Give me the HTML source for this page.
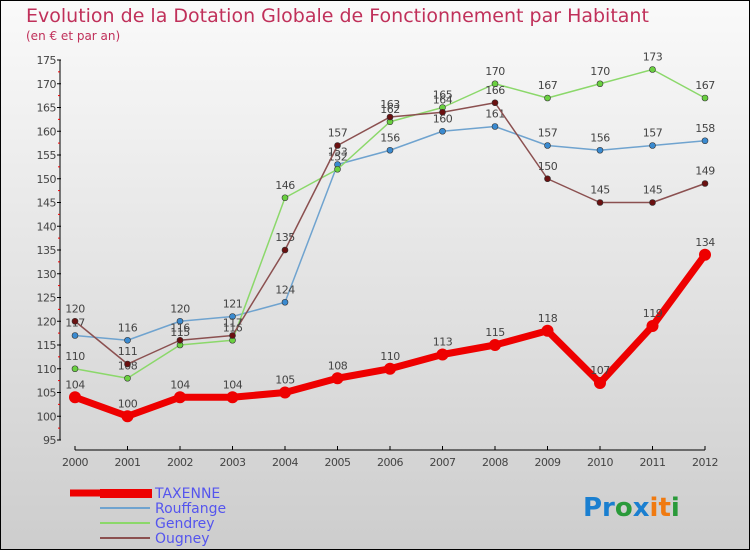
<!DOCTYPE html>
<html><head><meta charset="utf-8"><style>
body{margin:0;width:750px;height:550px;overflow:hidden}
svg{display:block;font-family:"DejaVu Sans","Liberation Sans",sans-serif}
</style></head><body>
<svg id="c" width="750" height="550" xmlns="http://www.w3.org/2000/svg">
<defs><linearGradient id="bg" x1="0" y1="0" x2="0" y2="1"><stop offset="0" stop-color="#fafafa"/><stop offset="1" stop-color="#cdcdcd"/></linearGradient></defs>
<rect x="0.5" y="0.5" width="749" height="549" fill="url(#bg)" stroke="#000"/>
<text x="26" y="22" font-size="19" fill="#c0305a">Evolution de la Dotation Globale de Fonctionnement par Habitant</text>
<text x="26" y="40" font-size="12" fill="#c0305a">(en € et par an)</text>
<g id="axes"></g><g id="series"></g>
<g>
<line x1="70" y1="493" x2="105" y2="493" stroke="#e00" stroke-width="7"/>
<text x="155" y="498" font-size="14" fill="#5555ee">TAXENNE</text>
<line x1="100" y1="508" x2="150" y2="508" stroke="#6fa3cf" stroke-width="2"/>
<text x="155" y="513" font-size="14" fill="#5555ee">Rouffange</text>
<line x1="100" y1="523" x2="150" y2="523" stroke="#8bd86a" stroke-width="2"/>
<text x="155" y="528" font-size="14" fill="#5555ee">Gendrey</text>
<line x1="100" y1="538" x2="150" y2="538" stroke="#8b5050" stroke-width="2"/>
<text x="155" y="543" font-size="14" fill="#5555ee">Ougney</text>
</g>
<rect x="100" y="489" width="52" height="9" fill="#e00"/>
<text x="583" y="516" font-size="26" font-weight="bold"><tspan fill="#1a7fd0">Pr</tspan><tspan fill="#2a9a3a">o</tspan><tspan fill="#1a7fd0">x</tspan><tspan fill="#f07a10">it</tspan><tspan fill="#2a9a3a">i</tspan></text>
</svg>
<script>
const years=["2000","2001","2002","2003","2004","2005","2006","2007","2008","2009","2010","2011","2012"];
const yTicks=[95,100,105,110,115,120,125,130,135,140,145,150,155,160,165,170,175];
const taxenne=[104,100,104,104,105,108,110,113,115,118,107,119,134];
const rouffange=[117,116,120,121,124,153,156,160,161,157,156,157,158];
const gendrey=[110,108,115,116,146,152,162,165,170,167,170,173,167];
const ougney=[120,111,116,117,135,157,163,164,166,150,145,145,149];
const NS="http://www.w3.org/2000/svg";
function X(i){return 75+i*52.5;}
function Y(v){return 440-(v-95)*4.75;}
function mk(t,a,p){const e=document.createElementNS(NS,t);for(const k in a)e.setAttribute(k,a[k]);p.appendChild(e);return e;}
const ax=document.getElementById('axes');
mk('line',{x1:60,y1:60,x2:60,y2:440,stroke:'#000','stroke-width':1},ax);
mk('line',{x1:75,y1:450,x2:705,y2:450,stroke:'#000','stroke-width':1},ax);
yTicks.forEach(v=>{const y=Y(v);
mk('line',{x1:57,y1:y,x2:61,y2:y,stroke:'#000'},ax);
if(v<175)mk('line',{x1:58,y1:y-11.9,x2:60,y2:y-11.9,stroke:'#e00'},ax);
const t=mk('text',{x:56,y:y+4,'font-size':11,fill:'#444','text-anchor':'end','letter-spacing':'-0.5'},ax);t.textContent=v;

});
years.forEach((yr,i)=>{const x=X(i);
mk('line',{x1:x,y1:446,x2:x,y2:450,stroke:'#000'},ax);
const t=mk('text',{x:x,y:466,'font-size':11,fill:'#444','text-anchor':'middle','letter-spacing':'-0.5'},ax);t.textContent=yr;

});
const sg=document.getElementById('series');
function draw(data,color,w,r,name,dot){
const g=mk('g',{},sg);


mk('polyline',{points:data.map((v,i)=>X(i)+','+Y(v)).join(' '),fill:'none',stroke:color,'stroke-width':w,'stroke-linejoin':'round'},g);
data.forEach((v,i)=>{const c=mk('circle',{cx:X(i),cy:Y(v),r:r,fill:dot,stroke:'#333','stroke-width':r>4?0:0.6},g);


const t=mk('text',{x:X(i),y:Y(v)-9,'font-size':11,fill:'#444','text-anchor':'middle','letter-spacing':'-0.5'},g);t.textContent=v;

});}
draw(rouffange,'#6fa3cf',1.5,3,'rouffange','#3a8ad0');
draw(gendrey,'#8bd86a',1.5,3,'gendrey','#6ad040');
draw(ougney,'#8b5050',1.5,3,'ougney','#6a1010');
draw(taxenne,'#e00',7,6,'taxenne','#e00');
</script>
</body></html>
